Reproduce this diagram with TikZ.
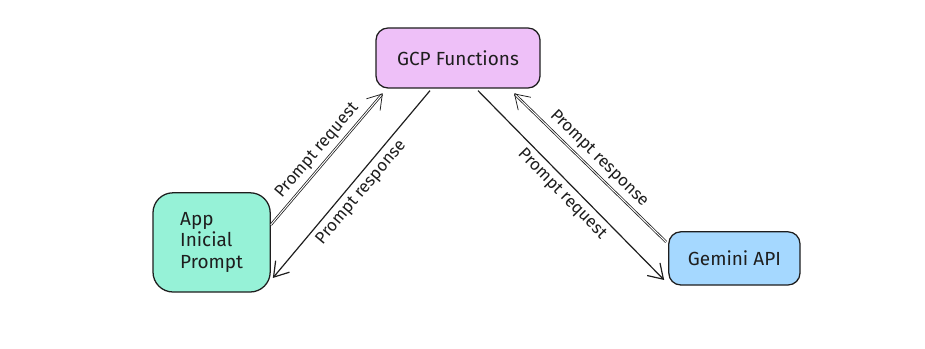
\documentclass[tikz,border=0pt]{standalone}
\usepackage{fontspec}
\setmainfont{Fira Sans}
\usetikzlibrary{arrows.meta}

\definecolor{stroke}{HTML}{1E1E1E}
\definecolor{fnviolet}{HTML}{EEC0F8}
\definecolor{appgreen}{HTML}{96F2D7}
\definecolor{apiblue}{HTML}{A5D8FF}

\begin{document}
\begin{tikzpicture}[font=\fontsize{13.5}{15}\selectfont, align=center,
  every node/.style={text=stroke},
  service/.style={draw=stroke, line width=0.9pt, shape=rectangle, rounded corners=0.3cm},
  flow/.style={draw=stroke, line width=0.85pt, -{Straight Barb[length=3.5mm, width=4.5mm]}},
  twice/.style={flow, double=white, double distance=0.7pt, line width=0.55pt},
  label/.style={midway, sloped, font=\fontsize{12}{14}\selectfont}]

      \useasboundingbox (0,0) rectangle (23.125,-8.725);

      \node[service, fill=fnviolet, minimum width=4.1cm, minimum height=1.5cm] (gcp) at (11.45,-1.45) {GCP Functions};
      \node[service, fill=appgreen, minimum width=2.93cm, minimum height=2.48cm, rounded corners=0.5cm, align=left] (app) at (5.29,-6.06) {App\\Inicial\\Prompt};
      \node[service, fill=apiblue, minimum width=3.28cm, minimum height=1.33cm] (gemini) at (18.36,-6.46) {Gemini API};

      % app <-> functions
      \draw[twice] ([yshift=0.44cm]app.east) -- ([xshift=-1.88cm, yshift=-0.12cm]gcp.south) node[label, above] {Prompt request};
      \draw[flow] ([xshift=-0.7cm, yshift=-0.05cm]gcp.south) -- ([xshift=0.05cm, yshift=-0.89cm]app.east) node[label, below] {Prompt response};

      % functions <-> gemini
      \draw[flow] ([xshift=0.5cm, yshift=-0.05cm]gcp.south) -- ([xshift=-0.1cm, yshift=-0.54cm]gemini.west) node[label, below] {Prompt request};
      \draw[twice] ([xshift=-0.05cm, yshift=0.41cm]gemini.west) -- ([xshift=1.4cm, yshift=-0.12cm]gcp.south) node[label, above] {Prompt response};
\end{tikzpicture}
\end{document}
